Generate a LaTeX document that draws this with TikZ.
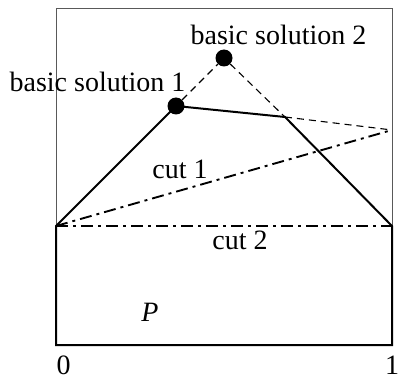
\documentclass[tikz,border=0pt]{standalone}
\usepackage{fontspec}
\setmainfont{Liberation Serif}
\begin{document}
\begin{tikzpicture}[x=1pt,y=1pt,
  every node/.style={font=\fontsize{28}{32}\selectfont, inner sep=0pt},
  hull/.style={line width=2pt, line join=miter},
  cutline/.style={line width=1.9pt, dash pattern=on 12pt off 5pt on 3pt off 5pt},
  ghost/.style={line width=1.1pt, dash pattern=on 7pt off 5pt},
  vertex/.style={circle, fill=black, minimum size=17pt, inner sep=0pt}]
  \useasboundingbox (0,0) rectangle (402,381);
  % 单位方框
  \draw[gray!70!black, line width=1pt] (56,36) rectangle (392,372);
  % 多面体 P 的顶点
  \coordinate (A) at (56,36);
  \coordinate (B) at (392,36);
  \coordinate (C) at (392,155);
  \coordinate (D) at (285,264);
  \coordinate (E) at (176,275);
  \coordinate (F) at (56,155);
  \coordinate (G) at (392,251);
  \draw[hull] (A) -- (B) -- (C) -- (D) -- (E) -- (F) -- cycle;
  \node[vertex] (S1) at (E) {};
  \node[vertex] (S2) at (224,323) {};
  \draw[ghost] (S1) -- (S2) -- (D);
  \draw[ghost] (D) -- (G);
  % 割平面
  \draw[cutline] (F) -- (G);
  \draw[cutline] (F) -- (C);
  \node[anchor=base] (L2) at (278.5,336) {basic solution 2};
  \node[anchor=base] (L1) at (97.5,289) {basic solution 1};
  \node[anchor=base] (K1) at (180,203) {cut 1};
  \node[anchor=base] (K2) at (240,132) {cut 2};
  \node[anchor=base] (P) at (150,60) {\itshape P};
  \node[anchor=base] (X0) at (63.5,7) {0};
  \node[anchor=base] (X1) at (392,7) {1};
\end{tikzpicture}
\end{document}
